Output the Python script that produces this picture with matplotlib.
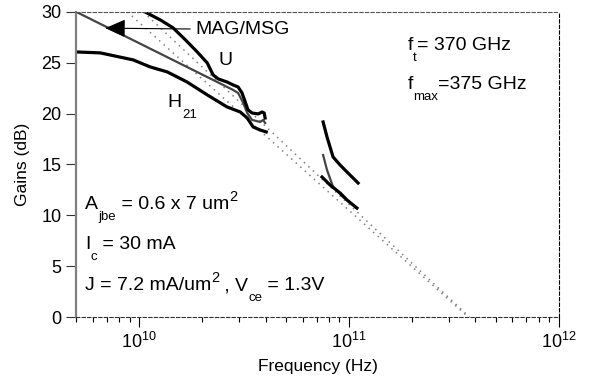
import matplotlib
matplotlib.use("Agg")
import matplotlib.pyplot as plt
import numpy as np

plt.rcParams['font.family'] = ['Liberation Sans', 'DejaVu Sans']
plt.rcParams['mathtext.fontset'] = 'custom'
plt.rcParams['mathtext.rm'] = 'Liberation Sans'
plt.rcParams['mathtext.it'] = 'Liberation Sans'
plt.rcParams['mathtext.default'] = 'regular'

# donnees (frequence en GHz, gain en dB)
f_h21_lo = [5.01, 6.52, 9.36, 11.28, 13.6, 16.9, 21.1, 26.2, 30.3, 32.7, 34.9, 37.7, 40.3]
g_h21_lo = [26.06, 25.97, 25.28, 24.59, 24.10, 23.11, 21.84, 20.66, 20.16, 19.57, 18.69, 18.39, 18.20]

f_u_lo = [10.2, 12.6, 14.5, 16.6, 18.9, 21.1, 22.5, 23.8, 26.2, 28.0, 29.6, 30.9, 32.0, 33.0, 34.5, 36.9, 38.5, 39.4, 39.8]
g_u_lo = [30.2, 29.21, 28.43, 27.25, 26.06, 24.98, 23.80, 23.41, 23.11, 22.82, 22.62, 22.03, 21.15, 20.36, 20.06, 19.97, 20.16, 20.06, 19.57]

f_mag_lo = [5.01, 25.1, 28.0, 29.6, 31.3, 32.7, 34.5, 37.7, 39.0, 39.8]
g_mag_lo = [30.0, 22.82, 22.33, 22.03, 21.05, 20.06, 19.38, 19.18, 19.38, 19.08]

f_u_hi = [75.2, 78.5, 83.9, 90.6, 97.8, 104.5, 110.4]
g_u_hi = [19.18, 17.70, 15.74, 14.95, 14.26, 13.67, 13.18]

f_mag_hi = [75.2, 78.5, 83.9, 93.6, 109.0]
g_mag_hi = [15.93, 14.46, 12.79, 11.80, 10.72]

f_h21_hi = [74.3, 81.2, 90.6, 97.8, 104.5, 109.0]
g_h21_hi = [13.77, 12.98, 12.20, 11.51, 11.02, 10.72]

# droites d'extrapolation -20 dB/dec
f_ext1 = [8.77, 370.0]
g_ext1 = [30.0, 0.0]
f_ext2 = [10.45, 375.0]
g_ext2 = [30.0, 0.0]

GHz = 1e9

fig = plt.figure(figsize=(5.94, 3.83), dpi=100)
ax = fig.add_axes([0.128, 0.172, 0.813, 0.797])

ax.plot(np.array(f_ext1) * GHz, g_ext1, color='#808080', lw=1.1, ls=(0, (1, 3)))
ax.plot(np.array(f_ext2) * GHz, g_ext2, color='#808080', lw=1.1, ls=(0, (1, 3)))

ax.plot(np.array(f_mag_lo) * GHz, g_mag_lo, color='#444444', lw=1.6)
ax.plot(np.array(f_mag_hi) * GHz, g_mag_hi, color='#444444', lw=1.6)
ax.plot(np.array(f_h21_lo) * GHz, g_h21_lo, color='black', lw=2.3)
ax.plot(np.array(f_h21_hi) * GHz, g_h21_hi, color='black', lw=2.3)
ax.plot(np.array(f_u_lo) * GHz, g_u_lo, color='black', lw=2.3)
ax.plot(np.array(f_u_hi) * GHz, g_u_hi, color='black', lw=2.3)

ax.set_xscale('log')
ax.set_xlim(5e9, 1e12)
ax.set_ylim(0, 30)
ax.set_yticks([0, 5, 10, 15, 20, 25, 30])

# axes
ax.spines['left'].set_color('#808080')
ax.spines['left'].set_linewidth(1.6)
for s in ['top', 'bottom', 'right']:
    ax.spines[s].set_linewidth(0.8)
    ax.spines[s].set_linestyle((0, (3, 2)))
ax.spines['top'].set_color('#555555')
ax.spines['bottom'].set_color('#333333')
ax.tick_params(axis='both', which='major', direction='out', length=7, width=0.8, labelsize=13)
ax.tick_params(axis='x', which='minor', direction='out', length=3.5, width=0.8)
ax.tick_params(axis='y', which='major', colors='#333333', labelcolor='black')

ax.set_xlabel('Frequency (Hz)', fontsize=12.5, labelpad=5)
ax.set_ylabel('Gains (dB)', fontsize=12.5, labelpad=8)

fs = 14      # texte principal
fs_sub = 9.5  # indices / exposants


def write(x, y, parts):
    # parts : liste de (texte, decalage vertical en points, taille)
    first = ax.text(x, y, parts[0][0], transform=ax.transAxes, fontsize=fs, va='baseline', ha='left')
    prev = first
    for txt, dy, size in parts[1:]:
        prev = ax.annotate(txt, xy=(1, y), xycoords=(prev, ax.transAxes), xytext=(0, dy),
                           textcoords='offset points', fontsize=size, va='baseline', ha='left')


SUB = -8
SUP = 6
write(0.687, 0.875, [('f', 0, fs), ('t', SUB, fs_sub), ('= 370 GHz', 0, fs)])
write(0.687, 0.747, [('f', 0, fs), ('max', SUB, fs_sub), ('=375 GHz', 0, fs)])
write(0.0186, 0.354, [('A', 0, fs), ('jbe', SUB, fs_sub), (' = 0.6 x 7 um', 0, fs), ('2', SUP, 10.5)])
write(0.0186, 0.223, [('I', 0, fs), ('c', SUB, fs_sub), (' = 30 mA', 0, fs)])
write(0.0186, 0.088, [('J = 7.2 mA/um', 0, fs), ('2', SUP, 10.5), (' , V', 0, fs), ('ce', SUB, fs_sub),
                      (' = 1.3V', 0, fs)])
write(0.19, 0.688, [('H', 0, fs), ('21', SUB, fs_sub)])
ax.text(0.294, 0.826, 'U', transform=ax.transAxes, fontsize=fs, va='baseline')

ax.annotate('MAG/MSG', xy=(6.89 * GHz, 28.4), xytext=(0.248, 0.929), textcoords='axes fraction',
            fontsize=fs, va='baseline', ha='left',
            arrowprops=dict(arrowstyle='-|>,head_length=0.9,head_width=0.4', color='black', lw=0.8,
                            shrinkA=2, shrinkB=0, mutation_scale=14,
                            relpos=(0, 0.5)))

fig.savefig('out.png', dpi=100)
